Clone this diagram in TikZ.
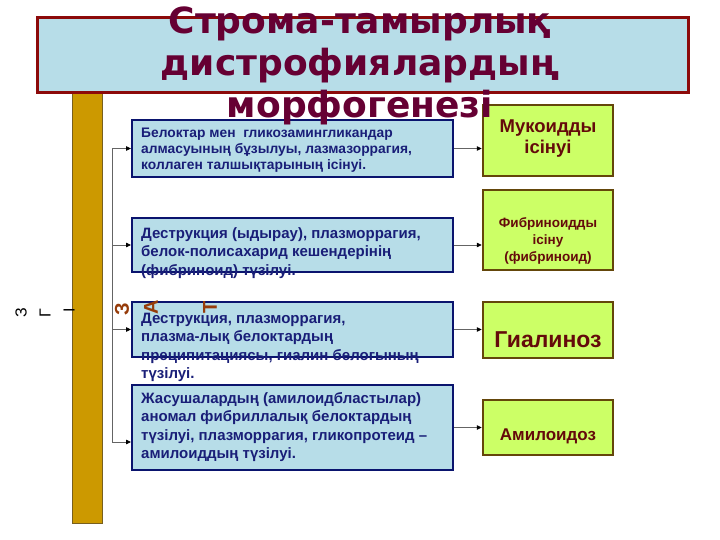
\documentclass[tikz,border=0pt]{standalone}
\usepackage{fontspec}
\setmainfont{Liberation Sans}
\newfontfamily\titlefont{DejaVu Sans}
\usetikzlibrary{arrows.meta}
\definecolor{navytxt}{RGB}{25,30,120}
\definecolor{navyline}{RGB}{10,20,110}
\definecolor{lblue}{RGB}{183,221,232}
\definecolor{lgreen}{RGB}{204,255,102}
\definecolor{gborder}{RGB}{100,70,10}
\definecolor{gtext}{RGB}{100,10,10}
\definecolor{ttext}{RGB}{102,0,51}
\definecolor{tborder}{RGB}{140,10,10}
\definecolor{gold}{RGB}{204,153,0}
\definecolor{goldline}{RGB}{120,95,30}
\definecolor{brownl}{RGB}{150,60,10}
\definecolor{conn}{RGB}{100,100,100}
\begin{document}
\begin{tikzpicture}[x=1pt,y=-1pt,
  lbox/.style={draw=navyline,line width=2pt,fill=lblue,inner sep=0pt,minimum width=321pt},
  gbox/.style={draw=gborder,line width=2.5pt,fill=lgreen,inner sep=0pt,minimum width=130pt},
  ltext/.style={text=navytxt,align=left,inner sep=0pt,anchor=base west},
  gtxt/.style={text=gtext,align=center,inner sep=0pt,anchor=base},
  arr/.style={draw=conn,line width=0.8pt,-{Triangle[length=5pt,width=4.5pt,color=black]}},
  rotl/.style={rotate=90,inner sep=0pt}]
\useasboundingbox (0,0) rectangle (720,540);
\fill[white] (0,0) rectangle (720,540);
% gold bar
\node[draw=goldline,line width=1pt,fill=gold,minimum width=30pt,minimum height=430pt,inner sep=0pt] (bar) at (87,308) {};
% title box
\node[draw=tborder,line width=3pt,fill=lblue,minimum width=651pt,minimum height=75pt,inner sep=0pt] (tbox) at (362.5,55.5) {};
% left boxes
\node[lbox,minimum height=57pt] (b1) at (292.5,148.5) {};
\node[lbox,minimum height=54pt] (b2) at (292.5,245) {};
\node[lbox,minimum height=55pt] (b3) at (292.5,329.5) {};
\node[lbox,minimum height=85pt] (b4) at (292.5,427.5) {};
% green boxes
\node[gbox,minimum height=71pt] (g1) at (548,140.5) {};
\node[gbox,minimum height=80pt] (g2) at (548,230) {};
\node[gbox,minimum height=56pt] (g3) at (548,330) {};
\node[gbox,minimum height=55pt] (g4) at (548,427.5) {};
% texts in left boxes (anchored at the baseline of the last line)
\node[ltext,font=\bfseries\fontsize{13.8}{16}\selectfont] (t1) at (141,170) {Белоктар мен\ \ гликозамингликандар\\алмасуының бұзылуы, лазмазоррагия,\\коллаген талшықтарының ісінуі.};
\node[ltext,font=\bfseries\fontsize{15}{18.5}\selectfont] (t2) at (141,275) {Деструкция (ыдырау), плазморрагия,\\белок-полисахарид кешендерінің\\(фибриноид) түзілуі.};
\node[ltext,font=\bfseries\fontsize{15}{18.5}\selectfont] (t3) at (141,378.5) {Деструкция, плазморрагия,\\плазма-лық белоктардың\\преципитациясы, гиалин белогының\\түзілуі.};
\node[ltext,font=\bfseries\fontsize{15}{18.5}\selectfont] (t4) at (141,458.5) {Жасушалардың (амилоидбластылар)\\аномал фибриллалық белоктардың\\түзілуі, плазморрагия, гликопротеид –\\амилоиддың түзілуі.};
% texts in green boxes
\node[gtxt,font=\bfseries\fontsize{18.5}{21}\selectfont] (u1) at (548,154) {Мукоидды\\ісінуі};
\node[gtxt,font=\bfseries\fontsize{13.5}{16.5}\selectfont] (u2) at (548,261) {Фибриноидды\\ісіну\\(фибриноид)};
\node[gtxt,font=\bfseries\fontsize{23}{26}\selectfont] (u3) at (548,347) {Гиалиноз};
\node[gtxt,font=\bfseries\fontsize{17}{20}\selectfont] (u4) at (548,440) {Амилоидоз};
% bracket and arrows
\coordinate (k1) at (112,148.5);
\coordinate (k2) at (112,245);
\coordinate (k3) at (112,329.5);
\coordinate (k4) at (112,442);
\draw[conn,line width=0.8pt] (k1) -- (k4);
\draw[arr] (k1) -- (k1 -| b1.west);
\draw[arr] (k2) -- (k2 -| b2.west);
\draw[arr] (k3) -- (k3 -| b3.west);
\draw[arr] (k4) -- (k4 -| b4.west);
\draw[arr] (b1.east) -- (b1.east -| g1.west);
\draw[arr] (b2.east) -- (b2.east -| g2.west);
\draw[arr] (b3.east) -- (b3.east -| g3.west);
\draw[arr] (b4.east) -- (b4.east -| g4.west);
% rotated letters
\node[rotl,text=brownl,font=\bfseries\fontsize{20}{20}\selectfont] (r1) at (122,309) {З};
\node[rotl,text=brownl,font=\bfseries\fontsize{20}{20}\selectfont] (r2) at (151,307) {А};
\node[rotl,text=brownl,font=\bfseries\fontsize{20}{20}\selectfont] (r3) at (210,307) {Т};
\node[rotl,font=\fontsize{16}{16}\selectfont] (s1) at (21,313) {З};
\node[rotl,font=\fontsize{16}{16}\selectfont] (s2) at (45,313) {Г};
\node[rotl,font=\fontsize{16}{16}\selectfont] (s3) at (69,310) {І};
% title
\node[text=ttext,align=center,inner sep=0pt,anchor=base,font=\titlefont\bfseries\fontsize{36}{42}\selectfont] (title) at (360,118) {Строма-тамырлық\\дистрофиялардың\\морфогенезі};
\end{tikzpicture}
\end{document}
